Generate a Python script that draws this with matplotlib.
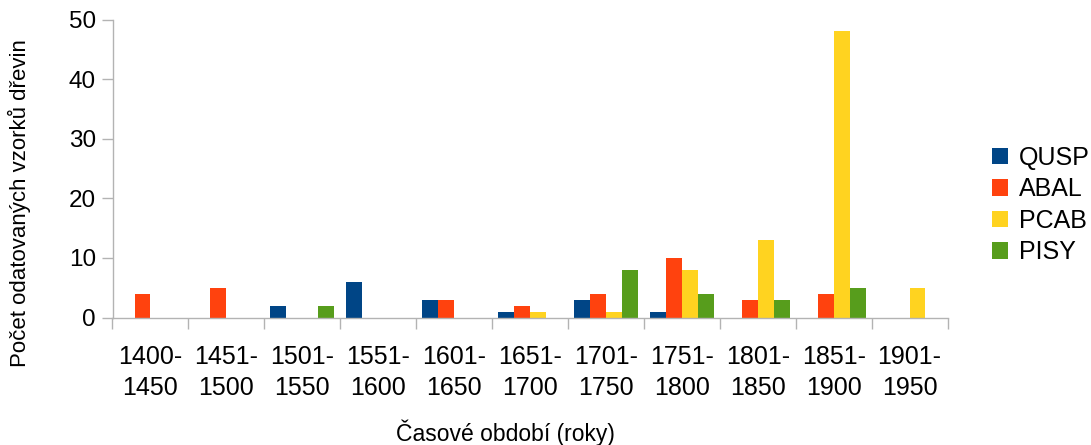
import matplotlib
matplotlib.use("Agg")
import matplotlib.pyplot as plt
import numpy as np

plt.rcParams['font.family'] = ['Liberation Sans', 'DejaVu Sans']

categories = ["1400-\n1450", "1451-\n1500", "1501-\n1550", "1551-\n1600", "1601-\n1650",
              "1651-\n1700", "1701-\n1750", "1751-\n1800", "1801-\n1850", "1851-\n1900",
              "1901-\n1950"]
series_names = ["QUSP", "ABAL", "PCAB", "PISY"]
qusp = [0, 0, 2, 6, 3, 1, 3, 1, 0, 0, 0]
abal = [4, 5, 0, 0, 3, 2, 4, 10, 3, 4, 0]
pcab = [0, 0, 0, 0, 0, 1, 1, 8, 13, 48, 5]
pisy = [0, 0, 2, 0, 0, 0, 8, 4, 3, 5, 0]
colors = ["#004586", "#ff420e", "#ffd320", "#579d1c"]

fig = plt.figure(figsize=(10.91, 4.45), dpi=100)
L, R, T, B = 112.5, 947.5, 19.5, 317.5
ax = fig.add_axes([L/1091, 1-B/445, (R-L)/1091, (B-T)/445])

x = np.arange(len(categories))
w = 0.21
for i, (vals, name, c) in enumerate(zip([qusp, abal, pcab, pisy], series_names, colors)):
    ax.bar(x + (i - 1.5) * w, vals, width=w, color=c, label=name, zorder=2)

ax.set_xlim(-0.5, len(categories) - 0.5)
ax.set_ylim(0, 50)
ax.set_yticks(range(0, 51, 10))
ax.set_xticks(x)
ax.set_xticklabels(categories, fontsize=18, linespacing=1.35)
ax.set_xticks(np.arange(-0.5, len(categories)), minor=True)
ax.tick_params(axis='x', which='major', length=0, pad=20)
ax.tick_params(axis='x', which='minor', length=8, color='#b3b3b3', width=1)
ax.tick_params(axis='y', length=8, color='#b3b3b3', width=1, labelsize=17.5, pad=4)

for s in ['top', 'right']:
    ax.spines[s].set_visible(False)
for s in ['left', 'bottom']:
    ax.spines[s].set_color('#b3b3b3')
    ax.spines[s].set_linewidth(1)

ax.set_ylabel("Počet odatovaných vzorků dřevin", fontsize=16)
ax.yaxis.set_label_coords((31 - L) / (R - L), (B - 203) / (B - T))
fig.text(505/1091, 1-433/445, "Časové období (roky)", fontsize=16.5, ha='center', va='center')

fig.legend(loc='center left', bbox_to_anchor=(992/1091, 1-205/445), frameon=False,
           fontsize=18, handlelength=0.62, handleheight=0.62, handletextpad=0.45,
           labelspacing=0.3, borderaxespad=0, borderpad=0)

fig.savefig("out.png", dpi=100)
